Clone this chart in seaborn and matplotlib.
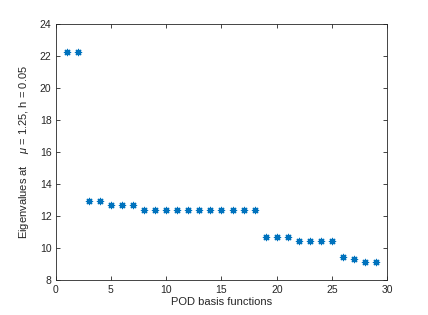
import matplotlib
matplotlib.use("Agg")
import matplotlib.pyplot as plt
import seaborn as sns
import pandas as pd

idx = list(range(1, 30))
eig = [22.23, 22.23, 12.93, 12.93, 12.72, 12.72, 12.68,
       12.39, 12.39, 12.39, 12.39, 12.39, 12.39, 12.39, 12.39, 12.39, 12.39, 12.39,
       10.68, 10.68, 10.68, 10.45, 10.45, 10.45, 10.45,
       9.48, 9.36, 9.15, 9.15]
xticks = [0, 5, 10, 15, 20, 25, 30]
yticks = [8, 10, 12, 14, 16, 18, 20, 22, 24]

sns.set_style("white")
plt.rcParams['font.family'] = ['Liberation Sans', 'DejaVu Sans']
plt.rcParams['mathtext.fontset'] = 'custom'
plt.rcParams['mathtext.it'] = 'Liberation Sans:italic'

df = pd.DataFrame({"n": idx, "ev": eig})
fig = plt.figure(figsize=(4.28, 3.15), dpi=100)
ax = fig.add_axes([0.13, 0.11, 0.775, 0.815])
sns.scatterplot(data=df, x="n", y="ev", ax=ax, marker=(8, 2, 0), s=20,
                color="#0072BD", linewidth=0.9, edgecolor="#0072BD")
ax.set_xlim(0, 30)
ax.set_ylim(8, 24)
ax.set_xticks(xticks)
ax.set_yticks(yticks)
ax.tick_params(direction="in", length=3, width=0.6, labelsize=7.5, colors="#262626",
               top=True, right=True, bottom=True, left=True, pad=3)
ax.tick_params(axis="x", labeltop=False)
ax.tick_params(axis="y", labelright=False)
for s in ax.spines.values():
    s.set_linewidth(0.6)
    s.set_color("#262626")
ax.set_xlabel("POD basis functions", fontsize=8, color="#262626", labelpad=2)
ax.set_ylabel("Eigenvalues at    $\\mu$ = 1.25, h = 0.05", fontsize=8, color="#262626", labelpad=6)
fig.savefig("out.png", dpi=100)
